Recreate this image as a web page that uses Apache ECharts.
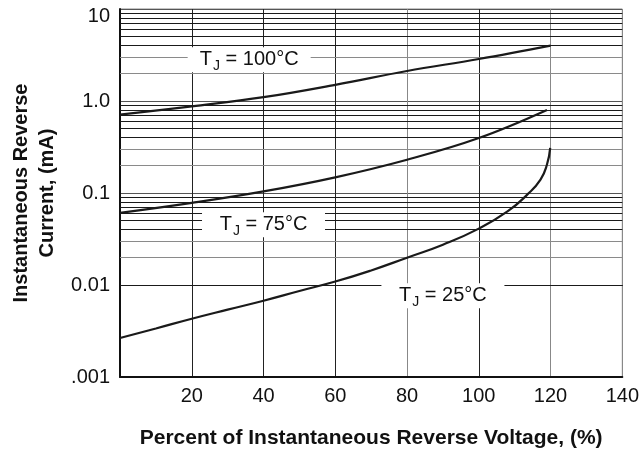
<!DOCTYPE html>
<html>
<head>
<meta charset="utf-8">
<script src="https://cdn.jsdelivr.net/npm/echarts@6/dist/echarts.min.js"></script>
<style>
  html, body { margin: 0; padding: 0; background: #fff; }
  #chart { width: 642px; height: 456px; }
</style>
</head>
<body>
<div id="chart"></div>
<script>
// 反向电流 vs 反向电压百分比（对数纵轴）
const volt100 = [0, 20, 40, 60, 80, 100, 120];
const curr100 = [0.71, 0.875, 1.10, 1.50, 2.12, 2.86, 4.0];

const volt75 = [0, 20, 40, 60, 80, 100, 119];
const curr75 = [0.0607, 0.078, 0.104, 0.148, 0.23, 0.396, 0.80];

const volt25 = [0, 10, 20, 30, 40, 50, 60, 70, 80, 90, 100, 108, 113.5, 117.2, 119, 119.9];
const curr25 = [0.00265, 0.00337, 0.0043, 0.0054, 0.00675, 0.0086, 0.0109, 0.0144, 0.0198, 0.0274, 0.041, 0.063, 0.096, 0.14, 0.204, 0.31];

const xTicks = [0, 20, 40, 60, 80, 100, 120, 140];
const yTickLabels = { '-3': '.001', '-2': '0.01', '-1': '0.1', '0': '1.0', '1': '10' };
const decades = [-3, -2, -1, 0];
const minorSteps = [2, 3, 4, 5, 6, 7, 8, 9];

// 曲线标注：[x, y, 温度]
const curveLabels = [
    [36, 2.81, '100'],
    [40, 0.0452, '75'],
    [90, 0.00766, '25']
];

const FONT = '"Liberation Sans", Arial, Helvetica, sans-serif';

const zip = (xs, ys) => xs.map((x, i) => [x, ys[i]]);

// 对数轴次网格线（2~9）
const minorLines = [];
decades.forEach(d => {
    minorSteps.forEach(m => {
        minorLines.push({
            yAxis: m * Math.pow(10, d),
            lineStyle: { color: m <= 3 ? '#8a8a8a' : '#1a1a1a', width: 1, type: 'solid' }
        });
    });
});

const curveStyle = {
    type: 'line',
    smooth: 0.4,
    symbol: 'none',
    lineStyle: { color: '#1a1a1a', width: 2.2 },
    z: 5
};

const chart = echarts.init(document.getElementById('chart'), null, { renderer: 'canvas' });

chart.setOption({
    backgroundColor: '#fff',
    animation: false,
    textStyle: { fontFamily: FONT, color: '#111' },
    grid: {
        left: 114, right: 19, top: 9, bottom: 79,
        show: true, borderColor: '#888', borderWidth: 1
    },
    xAxis: {
        type: 'value',
        min: 0, max: 140, interval: 20,
        name: 'Percent of Instantaneous Reverse Voltage, (%)',
        nameLocation: 'middle',
        nameGap: 51,
        nameTextStyle: { fontFamily: FONT, fontSize: 21, fontWeight: 'bold', color: '#111' },
        axisLine: { show: true, onZero: false, lineStyle: { color: '#111', width: 2 } },
        axisTick: { show: false },
        axisLabel: {
            fontFamily: FONT, fontSize: 20, color: '#111', margin: 9,
            formatter: v => (v === 0 ? '' : String(v))
        },
        splitLine: {
            show: true,
            lineStyle: { color: ['#111', '#222', '#222', '#222', '#888', '#222', '#888', '#888'], width: 1 }
        }
    },
    yAxis: {
        type: 'log',
        logBase: 10,
        min: 0.001, max: 10,
        name: 'Instantaneous Reverse\nCurrent, (mA)',
        nameLocation: 'middle',
        nameGap: 60,
        nameRotate: 90,
        nameTextStyle: { fontFamily: FONT, fontSize: 20, fontWeight: 'bold', color: '#111', lineHeight: 26 },
        axisLine: { show: true, onZero: false, lineStyle: { color: '#111', width: 2 } },
        axisTick: { show: false },
        axisLabel: {
            fontFamily: FONT, fontSize: 20, color: '#111', margin: 10,
            formatter: v => {
                const k = Math.round(Math.log10(v));
                const s = yTickLabels[String(k)] || '';
                return k === 1 ? '{top|' + s + '}' : s;
            },
            rich: { top: { fontFamily: FONT, fontSize: 20, color: '#111', padding: [14, 0, 0, 0] } }
        },
        splitLine: { show: true, lineStyle: { color: '#555', width: 1 } }
    },
    series: [
        {
            // 次网格线
            type: 'line',
            data: [],
            silent: true,
            z: 1,
            markLine: {
                silent: true,
                symbol: ['none', 'none'],
                label: { show: false },
                animation: false,
                data: minorLines
            }
        },
        { ...curveStyle, name: '100', data: zip(volt100, curr100) },
        { ...curveStyle, name: '75', data: zip(volt75, curr75) },
        { ...curveStyle, name: '25', smooth: 0.5, data: zip(volt25, curr25) },
        {
            // 温度标注
            type: 'line',
            data: [],
            silent: true,
            z: 10,
            markPoint: {
                silent: true,
                animation: false,
                symbol: 'rect',
                symbolSize: [123, 25],
                itemStyle: { color: '#fff' },
                label: {
                    show: true,
                    position: 'inside',
                    formatter: p => '{t|T}{s|J}{t| = ' + p.name + '°C}',
                    rich: {
                        t: { fontFamily: FONT, fontSize: 20, color: '#111' },
                        s: { fontFamily: FONT, fontSize: 14, color: '#111', padding: [12, 0, 0, 1] }
                    }
                },
                data: curveLabels.map(c => ({ name: c[2], coord: [c[0], c[1]] }))
            }
        }
    ]
});
</script>
</body>
</html>
